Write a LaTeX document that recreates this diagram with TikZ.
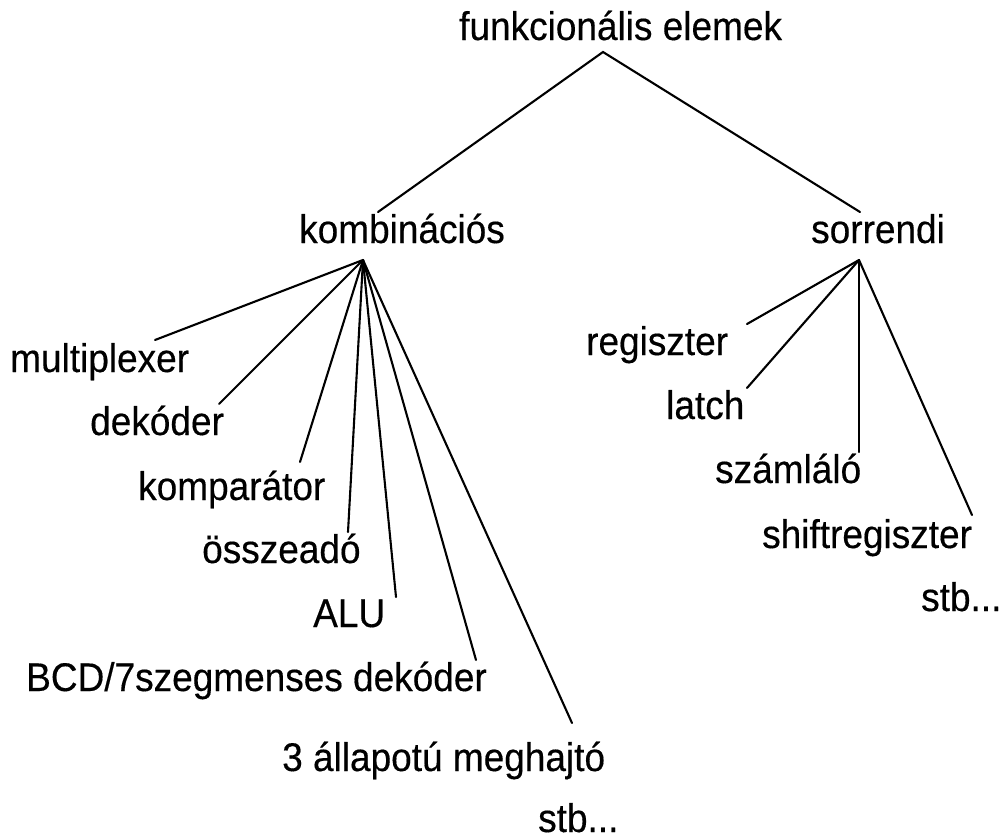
\documentclass[tikz,border=0pt]{standalone}
\usepackage{fontspec}
\setmainfont{Liberation Sans}
\newfontfamily\lblfont[FakeStretch=0.925,FakeBold=0.35]{Liberation Sans}
\begin{document}
\begin{tikzpicture}[x=1pt,y=-1pt,
  lbl/.style={anchor=base west, inner sep=0pt, font=\lblfont\fontsize{40}{48}\selectfont},
  link/.style={line width=2.1pt, line cap=round}]
\useasboundingbox (0,0) rectangle (1005,839);
% labels
\node[lbl] (root) at (459,40) {funkcionális elemek};
\node[lbl] (komb) at (299,243) {kombinációs};
\node[lbl] (sor) at (811,243) {sorrendi};
\node[lbl] (mux) at (10,372) {multiplexer};
\node[lbl] (dek) at (90,435) {dekóder};
\node[lbl] (komp) at (138,500) {komparátor};
\node[lbl] (ossz) at (202,563) {összeadó};
\node[lbl] (alu) at (313,627) {ALU};
\node[lbl] (bcd) at (26,691) {BCD/7szegmenses dekóder};
\node[lbl] (harom) at (282,771) {3 állapotú meghajtó};
\node[lbl] (stbl) at (538,832) {stb...};
\node[lbl] (reg) at (586,355) {regiszter};
\node[lbl] (latch) at (666,419) {latch};
\node[lbl] (szam) at (715,483) {számláló};
\node[lbl] (shift) at (762,548) {shiftregiszter};
\node[lbl] (stbr) at (921,611) {stb...};
% connector points
\coordinate (rootA) at (603,52);
\coordinate (kombT) at (378,212);
\coordinate (sorT) at (860,212);
\coordinate (kombA) at (363,260);
\coordinate (sorA) at (859,260);
\coordinate (muxE) at (155,340);
\coordinate (dekE) at (219,404);
\coordinate (kompE) at (300,462);
\coordinate (osszE) at (348,532);
\coordinate (aluE) at (396,597);
\coordinate (bcdE) at (476,660);
\coordinate (haromE) at (572,723);
\coordinate (regE) at (747,324);
\coordinate (latchE) at (747,388);
\coordinate (szamE) at (859,452);
\coordinate (shiftE) at (972,515);
% connectors
\draw[link] (kombT) -- (rootA) -- (sorT);
\foreach \e in {muxE,dekE,kompE,osszE,aluE,bcdE,haromE}
  \draw[link] (kombA) -- (\e);
\foreach \e in {regE,latchE,szamE,shiftE}
  \draw[link] (sorA) -- (\e);
\end{tikzpicture}
\end{document}
